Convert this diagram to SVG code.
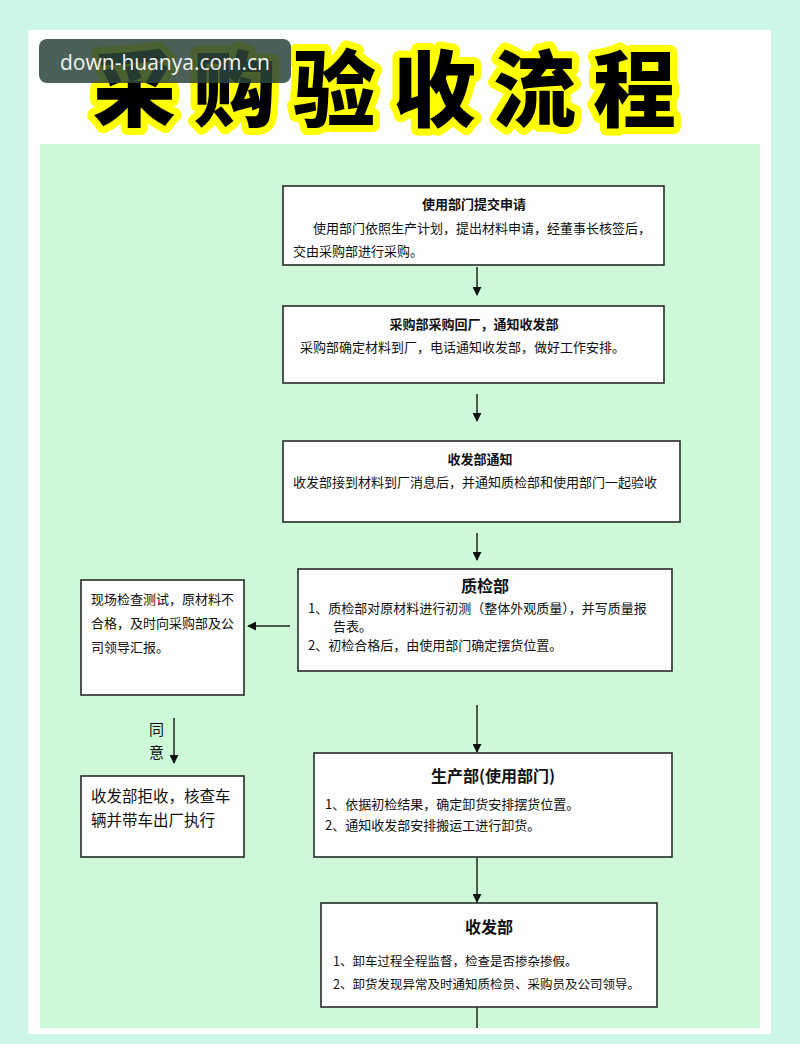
<svg xmlns="http://www.w3.org/2000/svg" width="800" height="1044" viewBox="0 0 800 1044">
<style>
.box{fill:#fcfdfc;stroke:#2a2a2a;stroke-width:1.6}
.t{font-family:"Noto Sans CJK SC","Noto Sans",sans-serif;fill:#111}
.h{font-size:13px;font-weight:700;text-anchor:middle}
.h2{font-size:16px;font-weight:700;text-anchor:middle}
.b{font-size:13px}
.bs{font-size:12.5px}
.b2{font-size:15.5px}
.c{stroke:#222;stroke-width:1.5;fill:none}
</style>
<defs>
<marker id="ah" viewBox="0 0 10 10" refX="9" refY="5" markerWidth="9" markerHeight="9" markerUnits="userSpaceOnUse" orient="auto">
<path d="M0,0 L10,5 L0,10 z" fill="#111"/>
</marker>
</defs>
<rect width="800" height="1044" fill="#ccf7e6"/>
<rect x="28" y="30" width="743" height="1004" fill="#fbfefc"/>
<rect x="40" y="144" width="720" height="884" fill="#cdf9d8"/>
<g id="title">
<text x="393" y="120" text-anchor="middle" class="t" style="font-size:83px;font-weight:900;letter-spacing:17px;stroke:#ffff00;stroke-width:14;stroke-linejoin:round;paint-order:stroke;fill:#000">采购验收流程</text>
</g>
<g id="watermark">
<rect x="39" y="39" width="252" height="44" rx="8" fill="#2c4438" fill-opacity="0.85"/>
<text x="165" y="70" text-anchor="middle" style="font-family:'Open Sans','DejaVu Sans',sans-serif;font-size:21px;fill:#f2f2f2">down-huanya.com.cn</text>
</g>
<g id="connectors">
<line class="c" x1="477" y1="267" x2="477" y2="295" marker-end="url(#ah)"/>
<line class="c" x1="477" y1="394" x2="477" y2="421" marker-end="url(#ah)"/>
<line class="c" x1="477" y1="533" x2="477" y2="560" marker-end="url(#ah)"/>
<line class="c" x1="290" y1="626" x2="248" y2="626" marker-end="url(#ah)"/>
<line class="c" x1="174" y1="718" x2="174" y2="763" marker-end="url(#ah)"/>
<line class="c" x1="477" y1="705" x2="477" y2="752" marker-end="url(#ah)"/>
<line class="c" x1="477" y1="858" x2="477" y2="902" marker-end="url(#ah)"/>
<line class="c" x1="477" y1="1007" x2="477" y2="1028"/>
<text class="t" x="149" y="735" style="font-size:15px">同</text>
<text class="t" x="149" y="758" style="font-size:15px">意</text>
</g>
<g id="n1">
<rect class="box" x="283" y="186" width="381" height="79"/>
<text class="t h" x="474" y="209">使用部门提交申请</text>
<text class="t b" x="313" y="233">使用部门依照生产计划，提出材料申请，经董事长核签后，</text>
<text class="t b" x="293" y="256">交由采购部进行采购。</text>
</g>
<g id="n2">
<rect class="box" x="283" y="306" width="381" height="77"/>
<text class="t h" x="474" y="329">采购部采购回厂，通知收发部</text>
<text class="t b" x="300" y="352">采购部确定材料到厂，电话通知收发部，做好工作安排。</text>
</g>
<g id="n3">
<rect class="box" x="283" y="441" width="397" height="81"/>
<text class="t h" x="480" y="464">收发部通知</text>
<text class="t b" x="293" y="487">收发部接到材料到厂消息后，并通知质检部和使用部门一起验收</text>
</g>
<g id="n4">
<rect class="box" x="298" y="569" width="374" height="102"/>
<text class="t h2" x="485" y="592">质检部</text>
<text class="t b" x="308" y="613">1、质检部对原材料进行初测（整体外观质量），并写质量报</text>
<text class="t b" x="333" y="631">告表。</text>
<text class="t b" x="308" y="650">2、初检合格后，由使用部门确定摆货位置。</text>
</g>
<g id="n5">
<rect class="box" x="81" y="580" width="163" height="115"/>
<text class="t b" x="91" y="604">现场检查测试，原材料不</text>
<text class="t b" x="91" y="628">合格，及时向采购部及公</text>
<text class="t b" x="91" y="652">司领导汇报。</text>
</g>
<g id="n6">
<rect class="box" x="81" y="776" width="163" height="81"/>
<text class="t b2" x="91" y="802">收发部拒收，核查车</text>
<text class="t b2" x="91" y="826">辆并带车出厂执行</text>
</g>
<g id="n7">
<rect class="box" x="314" y="753" width="358" height="104"/>
<text class="t h2" x="493" y="782">生产部(使用部门)</text>
<text class="t b" x="325" y="809">1、依据初检结果，确定卸货安排摆货位置。</text>
<text class="t b" x="325" y="830">2、通知收发部安排搬运工进行卸货。</text>
</g>
<g id="n8">
<rect class="box" x="321" y="903" width="336" height="104"/>
<text class="t h2" x="489" y="933">收发部</text>
<text class="t bs" x="333" y="966">1、卸车过程全程监督，检查是否掺杂掺假。</text>
<text class="t bs" x="333" y="989">2、卸货发现异常及时通知质检员、采购员及公司领导。</text>
</g>
</svg>
